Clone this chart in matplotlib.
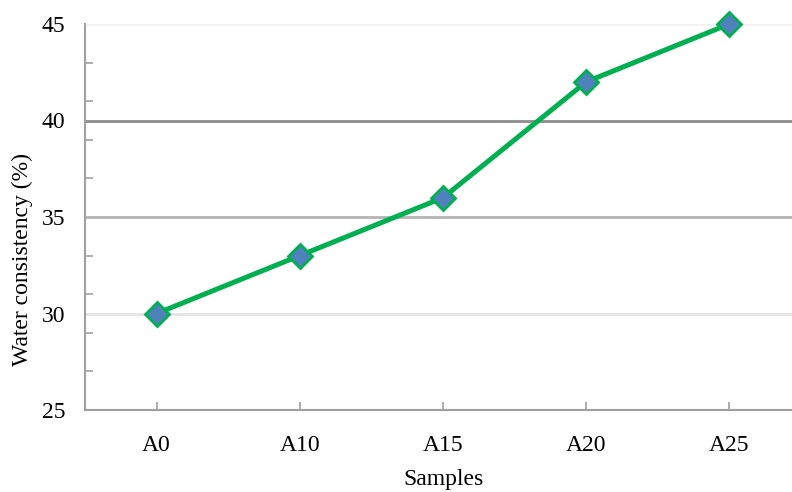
import matplotlib
matplotlib.use("Agg")
import matplotlib.pyplot as plt

samples = ["A0", "A10", "A15", "A20", "A25"]
consistency = [30, 33, 36, 42, 45]

label_ticks = [25, 30, 35, 40, 45]
minor_ticks = [25, 27, 29, 31, 33, 35, 37, 39, 41, 43, 45]
grid_levels = [30, 35, 40, 45]
grid_colors = ["#e3e3e3", "#b4b4b4", "#8c8c8c", "#f2f2f2"]

plt.rcParams["font.family"] = ["Liberation Serif", "DejaVu Serif"]

fig = plt.figure(figsize=(7.92, 4.92), dpi=100)
ax = fig.add_axes([85 / 792, 82 / 492, 716 / 792, 386 / 492])

for lvl, c in zip(grid_levels, grid_colors):
    ax.axhline(lvl, color=c, lw=2, zorder=1)

x = list(range(len(samples)))
ax.plot(x, consistency, color="#00b050", lw=3.6, marker="D", markersize=12,
        markerfacecolor="#4f81bd", markeredgecolor="#00b050", markeredgewidth=2,
        zorder=3, clip_on=False)

ax.set_xlim(-0.5, 4.5)
ax.set_ylim(25, 45)
ax.set_xticks(x)
ax.set_xticklabels(samples)
ax.set_yticks(label_ticks)
ax.set_yticks(minor_ticks, minor=True)
ax.tick_params(axis="y", which="major", length=0, pad=14, labelsize=17)
ax.tick_params(axis="y", which="minor", direction="in", length=6, color="#a0a0a0", width=1.2)
ax.tick_params(axis="x", direction="in", length=6, color="#a0a0a0", width=1.2, pad=18, labelsize=17)

for side in ["top", "right"]:
    ax.spines[side].set_visible(False)
for side in ["left", "bottom"]:
    ax.spines[side].set_color("#a0a0a0")
    ax.spines[side].set_linewidth(1.5)

ax.set_xlabel("Samples", fontsize=17, labelpad=9)
ax.set_ylabel("Water consistency (%)", fontsize=17)
ax.yaxis.set_label_coords(-0.073, 0.39)

fig.savefig("out.png", dpi=100)
